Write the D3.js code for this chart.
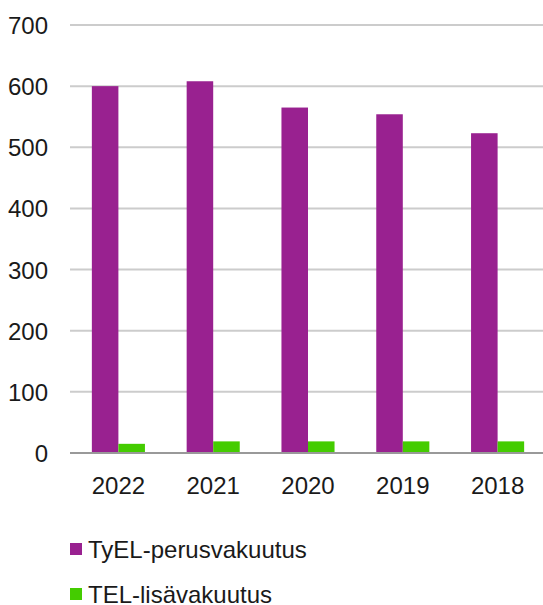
<!DOCTYPE html>
<html>
<head>
<meta charset="utf-8">
<script src="https://cdn.jsdelivr.net/npm/d3@7/dist/d3.min.js"></script>
<style>
  body { margin: 0; background: #fff; }
  svg { display: block; font-family: "Liberation Sans", Arial, sans-serif; }
</style>
</head>
<body>
<svg width="543" height="605"></svg>
<script>
// Data
const years = ["2022", "2021", "2020", "2019", "2018"]
const seriesNames = ["TyEL-perusvakuutus", "TEL-lisävakuutus"]
const perus = [600, 608, 565, 554, 523]
const lisa = [15, 19, 19, 19, 19]
const yTicks = [0, 100, 200, 300, 400, 500, 600, 700]
const colors = ["#992190", "#44cc00"]

const svgWidth = 543
const plotLeft = 71
const plotRight = 545
const plotTop = 25
const plotBottom = 453

const svg = d3.select("svg")

// Scales
const xScale = d3.scaleBand(years, [plotLeft, plotRight])
const bw = xScale.bandwidth()
const xInner = d3.scaleBand(seriesNames, [bw * 0.22, bw * 0.78])
const yScale = d3.scaleLinear([0, 700], [plotBottom, plotTop])
const color = d3.scaleOrdinal(seriesNames, colors)

// Grid
svg.append("g")
  .selectAll("line")
  .data(yTicks.filter(d => d > 0))
  .join("line")
    .attr("x1", plotLeft - 1)
    .attr("x2", svgWidth)
    .attr("y1", d => yScale(d))
    .attr("y2", d => yScale(d))
    .attr("stroke", "#cccccc")
    .attr("stroke-width", 2)

// Y labels
svg.append("g")
  .selectAll("text")
  .data(yTicks)
  .join("text")
    .attr("x", 48)
    .attr("y", d => yScale(d) + 9)
    .attr("text-anchor", "end")
    .attr("font-size", "24px")
    .attr("fill", "#1a1a1a")
    .text(d => d)

// Bars
const rows = years.map((y, i) => ({year: y, values: [
  {name: seriesNames[0], value: perus[i]},
  {name: seriesNames[1], value: lisa[i]}
]}))

svg.append("g")
  .selectAll("g")
  .data(rows)
  .join("g")
    .attr("transform", d => `translate(${xScale(d.year)},0)`)
  .selectAll("rect")
  .data(d => d.values)
  .join("rect")
    .attr("x", d => xInner(d.name))
    .attr("width", xInner.bandwidth())
    .attr("y", d => yScale(d.value))
    .attr("height", d => yScale(0) - yScale(d.value))
    .attr("fill", d => color(d.name))

// Baseline
svg.append("line")
  .attr("x1", plotLeft - 1)
  .attr("x2", svgWidth)
  .attr("y1", yScale(0))
  .attr("y2", yScale(0))
  .attr("stroke", "#999999")
  .attr("stroke-width", 2)

// X labels
svg.append("g")
  .selectAll("text")
  .data(years)
  .join("text")
    .attr("x", d => xScale(d) + bw / 2)
    .attr("y", 494)
    .attr("text-anchor", "middle")
    .attr("font-size", "24px")
    .attr("fill", "#1a1a1a")
    .text(d => d)

// Legend
const legend = svg.append("g")
  .selectAll("g")
  .data(seriesNames)
  .join("g")
    .attr("transform", (d, i) => `translate(70, ${543 + i * 45})`)

legend.append("rect")
  .attr("width", 12)
  .attr("height", 12)
  .attr("fill", d => color(d))

legend.append("text")
  .attr("x", 18)
  .attr("y", 15)
  .attr("font-size", "24px")
  .attr("fill", "#1a1a1a")
  .text(d => d)
</script>
</body>
</html>
